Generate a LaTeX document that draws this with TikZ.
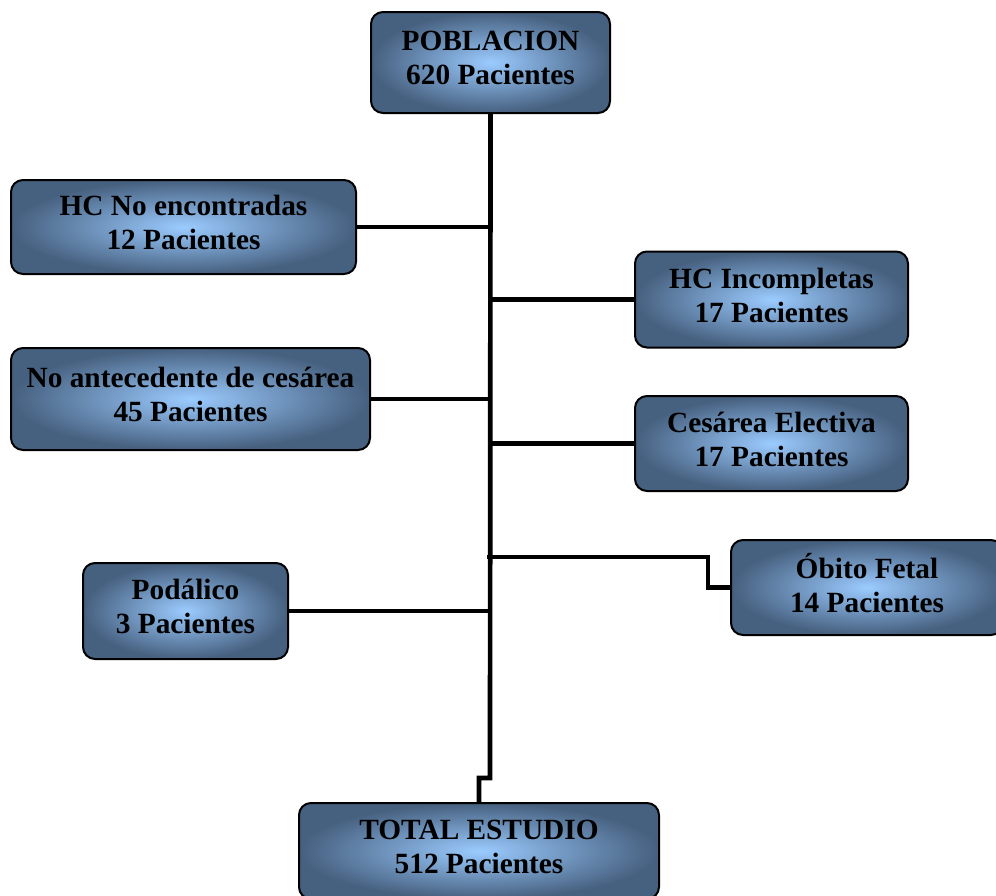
\documentclass[tikz,border=0pt]{standalone}
\usepackage{fontspec}
\setmainfont{Liberation Serif}
\usetikzlibrary{calc}
\definecolor{boxout}{HTML}{46607F}
\definecolor{boxin}{HTML}{9BCBFF}
\tikzset{
	caja/.style={draw=black, line width=1.5pt, rounded corners=9pt, inner color=boxin, outer color=boxout, align=center, font=\fontsize{22}{25.5}\selectfont\bfseries, inner sep=0pt, text depth=7pt},
	linea/.style={line width=3.5pt}
}

\begin{document}
\begin{tikzpicture}[x=0.75pt, y=-0.75pt]
			%%%%% START %%%%%
			
			\useasboundingbox (0, 0) rectangle (996, 896);
			
			\node[caja, minimum width=179.25pt, minimum height=75.75pt] (pob) at (490.5, 62.5) {POBLACION\\620 Pacientes};
			
			\node[caja, minimum width=258.75pt, minimum height=70.5pt] (hcne) at (183.5, 227) {HC No encontradas\\12 Pacientes};
			\node[caja, minimum width=269.25pt, minimum height=76.5pt] (noant) at (190.5, 399) {No antecedente de cesárea\\45 Pacientes};
			\node[caja, minimum width=153.75pt, minimum height=72pt] (podal) at (185.5, 611) {Podálico\\3 Pacientes};
			
			\node[caja, minimum width=204.75pt, minimum height=72pt] (hci) at (771.5, 299.5) {HC Incompletas\\17 Pacientes};
			\node[caja, minimum width=204.75pt, minimum height=71.25pt] (cesel) at (771.5, 443.5) {Cesárea Electiva\\17 Pacientes};
			\node[caja, minimum width=204pt, minimum height=71.25pt] (obito) at (867, 587.5) {Óbito Fetal\\14 Pacientes};
			
			\node[caja, minimum width=270pt, minimum height=72pt] (total) at (479, 851) {TOTAL ESTUDIO\\512 Pacientes};
			
			% tronco
			\coordinate (jog) at (490, 778);
			\draw[linea] (pob.south) -- (jog) -| (total.north);
			
			% ramas
			\draw[linea] (hcne.east) -- (hcne.east -| jog);
			\draw[linea] (noant.east) -- (noant.east -| jog);
			\draw[linea] (podal.east) -- (podal.east -| jog);
			\draw[linea] (hci.west) -- (hci.west -| jog);
			\draw[linea] (cesel.west) -- (cesel.west -| jog);
			
			\coordinate (obk) at (708, 557);
			\draw[linea] (obito.west) -| (obk) -- ($(obk -| jog)+(-3, 0)$);
			
			%%%%% END %%%%%
\end{tikzpicture}
\end{document}
